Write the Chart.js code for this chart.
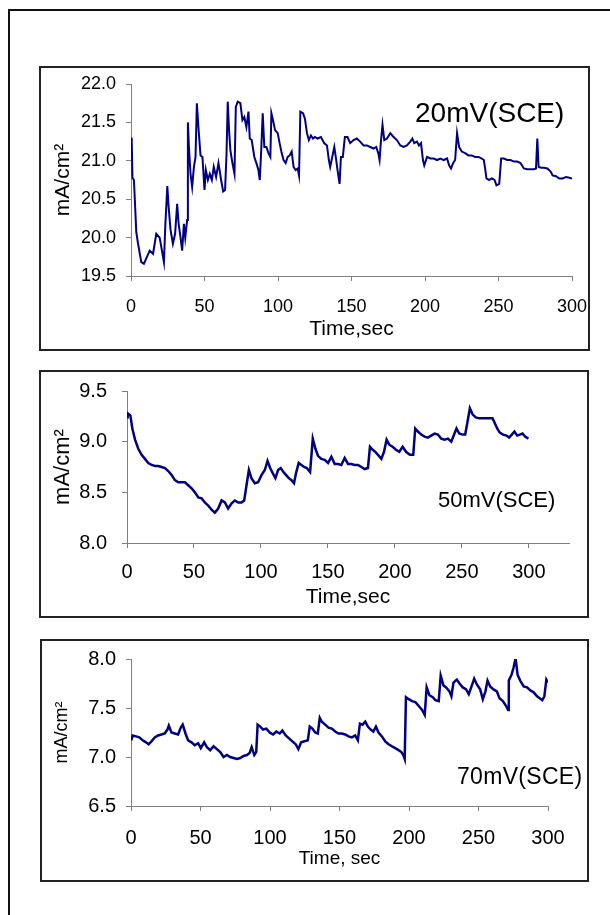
<!DOCTYPE html>
<html>
<head>
<meta charset="utf-8">
<script src="https://cdn.jsdelivr.net/npm/chart.js@4.4.0/dist/chart.umd.min.js"></script>
<style>
  html, body { margin:0; padding:0; background:#fff; }
  body { width:610px; height:915px; position:relative; overflow:hidden; font-family:"Liberation Sans", Arial, sans-serif; }
  .frame { position:absolute; left:8px; top:9px; width:700px; height:1000px; border:2px solid #111; }
  .panel { position:absolute; border:2px solid #222; background:#fff; }
  .panel canvas { position:absolute; left:0; top:0; }
  .tag { position:absolute; color:#000; white-space:nowrap; line-height:1; }
</style>
</head>
<body>
<div class="frame"></div>

<div class="panel" style="left:39px;top:66px;width:547px;height:281px;"><canvas id="c20" width="547" height="281"></canvas></div>
<div class="panel" style="left:39px;top:370px;width:546px;height:244px;"><canvas id="c50" width="546" height="244"></canvas></div>
<div class="panel" style="left:40px;top:639px;width:545px;height:239px;"><canvas id="c70" width="545" height="239"></canvas></div>

<div class="tag" style="left:415px;top:99px;font-size:28px;">20mV(SCE)</div>
<div class="tag" style="left:438px;top:489px;font-size:22px;">50mV(SCE)</div>
<div class="tag" style="left:457px;top:765px;font-size:23px;letter-spacing:0.3px;">70mV(SCE)</div>

<script>
const FONT = '"Liberation Sans", Arial, sans-serif';
const LINE = '#000080';
const AXIS = '#808080';

// 20mV(SCE) — time (s) / current density (mA/cm2)
const time20 = [
  0, 0.5, 1, 2, 3.6, 4.8, 7, 8.8, 10.4, 12.7,
  15, 17.2, 19.5, 20.6, 22.4, 23.3, 24.7, 25.6, 26.9, 28.5,
  30, 31.4, 32.4, 33.7, 34.8, 36, 36.9, 38.2, 38.7, 39.4,
  40.5, 41.6, 42.8, 43.9, 44.8, 46, 47.3, 48.6, 50, 50.9,
  52.3, 53.6, 55, 56.3, 57.9, 59.5, 61.3, 62.7, 64, 65,
  65.8, 66.7, 67.6, 69, 70.4, 71.3, 72.6, 74.4, 75.8, 77.1,
  78.5, 79.9, 80.8, 82.1, 83.9, 85.3, 86.7, 87.6, 88.5, 89.6,
  90.7, 92.1, 93.5, 94.8, 95.5, 96.6, 98, 99.8, 101.1, 102.5,
  103.8, 105.2, 106.6, 107.9, 109.3, 110.6, 112, 113.4, 114.3, 115.2,
  117, 118.3, 119.7, 121, 122.4, 123.8, 125.1, 126.9, 129.2, 131.4,
  133.3, 134.6, 135.5, 136.9, 138.3, 139.6, 140.5, 141.9, 142.8, 144.1,
  145.5, 147.3, 149.1, 151.4, 153.6, 155.9, 158.2, 160.5, 162.7, 165,
  166.8, 168.2, 169.1, 170, 171.1, 172.3, 174.1, 176.4, 178.6, 180.9,
  183.2, 185.5, 187.7, 190, 191.4, 192.7, 194.5, 195.9, 197.3, 198.6,
  199.5, 201.4, 203.6, 205.9, 208.2, 210.5, 212.7, 215, 216.4, 217.7,
  219.1, 220.5, 221.8, 223.2, 225, 227.3, 229.5, 231.8, 234.1, 236.4,
  238.6, 240, 240.9, 241.8, 243.6, 245.5, 247.3, 248.6, 250.5, 251.8,
  253.6, 255.9, 258.2, 260.5, 262.7, 265, 267.3, 269.5, 271.8, 274.1,
  275.5, 276.4, 277.3, 279.1, 280.9, 283.2, 285.5, 286.8, 289.1, 291.4,
  293.6, 295.9, 298.2, 300
];
const cur20 = [
  21.3, 21.25, 20.78, 20.75, 20.07, 19.92, 19.68, 19.66, 19.73, 19.83,
  19.79, 20.05, 20.0, 19.88, 19.68, 20.14, 20.67, 20.4, 20.1, 19.92,
  20.05, 20.44, 20.18, 20.0, 19.83, 20.18, 20.0, 20.23, 21.5, 21.18,
  20.83, 20.66, 20.92, 21.05, 21.75, 21.4, 21.07, 21.05, 20.62, 20.88,
  20.75, 20.83, 20.75, 20.92, 20.79, 20.97, 20.75, 20.6, 20.62, 21.1,
  21.77, 21.4, 21.14, 20.97, 20.83, 21.7, 21.77, 21.75, 21.53, 21.57,
  21.44, 21.64, 21.29, 21.27, 21.05, 20.97, 20.88, 20.75, 21.1, 21.62,
  21.18, 21.18, 21.1, 21.05, 21.62, 21.53, 21.4, 21.36, 21.23, 21.1,
  21.01, 20.97, 21.05, 21.07, 21.12, 20.92, 20.88, 20.9, 20.81, 21.64,
  21.62, 21.55, 21.36, 21.27, 21.33, 21.29, 21.31, 21.29, 21.31, 21.23,
  21.2, 21.01, 20.92, 21.05, 21.18, 21.01, 20.88, 20.7, 21.05, 21.05,
  21.31, 21.31, 21.23, 21.27, 21.29, 21.25, 21.2, 21.2, 21.18, 21.16,
  21.18, 21.1, 21.01, 21.25, 21.47, 21.27, 21.29, 21.36, 21.31, 21.27,
  21.2, 21.18, 21.2, 21.25, 21.29, 21.23, 21.25, 21.2, 21.23, 21.01,
  20.94, 21.05, 21.03, 21.03, 21.01, 21.03, 21.01, 21.03, 20.94, 20.9,
  20.97, 21.01, 21.36, 21.18, 21.12, 21.1, 21.07, 21.07, 21.05, 21.05,
  21.03, 21.01, 20.9, 20.77, 20.75, 20.77, 20.75, 20.68, 20.7, 21.03,
  21.03, 21.01, 21.01, 20.99, 20.99, 20.97, 20.9, 20.89, 20.89, 20.89,
  20.9, 21.29, 20.92, 20.91, 20.91, 20.9, 20.86, 20.81, 20.8, 20.77,
  20.77, 20.79, 20.78, 20.77
];

// 50mV(SCE)
const time50 = [
  0, 0.5, 2.5, 4, 6, 8.4, 10.9, 13.4, 15.9, 18.4, 20.9,
  23.4, 25.8, 28.3, 30.8, 33.3, 35.8, 38.3, 40.7, 43.2, 45.7,
  48.2, 50.7, 53.2, 55.7, 58.1, 60.6, 63.1, 65.6, 68.1, 70.6,
  73.1, 75.5, 78, 80.5, 83, 85.5, 87.5, 89, 91, 92.9,
  95.4, 97.9, 100.4, 102.9, 104.9, 106.9, 108.8, 110.8, 112.8, 114.8,
  116.8, 118.8, 120.8, 122.8, 124.7, 126.2, 128.2, 130.2, 132.2, 134.2,
  136.7, 138.7, 140.7, 142.6, 145.1, 147.6, 150.1, 152.6, 155.1, 157.6,
  160, 162.5, 165, 167.5, 170, 172.5, 175, 177.4, 179.9, 181.4,
  183.4, 185.4, 187.4, 189.9, 191.9, 193.8, 195.8, 198.3, 200.8, 203.3,
  205.8, 208.3, 211.2, 213.7, 215.2, 217.2, 219.7, 222.2, 224.7, 227.1,
  229.6, 232.1, 234.6, 237.1, 239.6, 242.1, 244.5, 246, 248, 250.5,
  252.5, 254, 256, 258, 260.4, 262.9, 265.4, 267.9, 270.4, 272.9,
  274.4, 276.4, 278.3, 280.8, 283.3, 285.3, 287.3, 289.3, 291.3, 293.3,
  295.3, 297.2, 299.7
];
const cur50 = [
  9.24, 9.28, 9.26, 9.13, 9.02, 8.93, 8.87, 8.83, 8.79, 8.77, 8.76,
  8.76, 8.75, 8.74, 8.71, 8.67, 8.62, 8.6, 8.6, 8.6, 8.57,
  8.54, 8.5, 8.45, 8.44, 8.4, 8.37, 8.33, 8.3, 8.34, 8.42,
  8.4, 8.34, 8.39, 8.42, 8.4, 8.4, 8.42, 8.55, 8.72, 8.64,
  8.59, 8.6, 8.67, 8.72, 8.81, 8.74, 8.69, 8.64, 8.72, 8.74,
  8.7, 8.67, 8.64, 8.62, 8.59, 8.69, 8.79, 8.77, 8.75, 8.74,
  8.7, 9.03, 8.93, 8.86, 8.83, 8.82, 8.79, 8.85, 8.78, 8.78,
  8.77, 8.84, 8.78, 8.78, 8.77, 8.77, 8.75, 8.73, 8.74, 8.95,
  8.92, 8.9, 8.87, 8.83, 8.9, 9.02, 8.97, 8.95, 8.92, 8.9,
  8.95, 8.9, 8.87, 8.87, 9.13, 9.1, 9.07, 9.05, 9.04, 9.06,
  9.08, 9.07, 9.03, 9.02, 9.03, 9.0, 9.08, 9.13, 9.08, 9.07,
  9.07, 9.18, 9.33, 9.27, 9.24, 9.23, 9.23, 9.23, 9.23, 9.23,
  9.19, 9.13, 9.09, 9.07, 9.06, 9.04, 9.07, 9.1, 9.06, 9.07,
  9.08, 9.05, 9.03
];

// 70mV(SCE)
const time70 = [
  0.2, 1.2, 3.6, 6, 8.4, 10.8, 12.7, 14.7, 17.1, 19.5,
  21.9, 24.3, 26.2, 27.2, 29.1, 31.5, 33.9, 35.8, 37.2, 39.2,
  41.1, 43.5, 45.9, 48.3, 50.2, 52.6, 54.6, 57, 59.4, 61.8,
  64.2, 66.6, 69, 71.4, 73.8, 76.2, 78.6, 81, 83.4, 85.3,
  86.8, 88.7, 90.1, 91.1, 93, 95, 97.4, 99.8, 102.2, 104.6,
  107, 108.9, 111.3, 113.7, 116.1, 118.5, 120.4, 122.4, 124.8, 127.2,
  128.6, 130.5, 132.5, 134.4, 135.8, 137.3, 139.7, 142.1, 144.5, 146.9,
  149.3, 151.7, 154.1, 156.5, 158.9, 161.3, 163.2, 164.7, 166.6, 168.5,
  170.4, 172.4, 174.3, 176.2, 178.1, 180.5, 182.9, 185.3, 187.7, 190.1,
  192.5, 194.5, 195.9, 196.9, 197.8, 199.8, 202.2, 204.6, 207, 209.4,
  211.3, 212.7, 214.7, 217.1, 219, 221.4, 222.8, 224.8, 226.7, 229.1,
  230.5, 232, 234.4, 236.3, 238.7, 241.1, 243, 245, 246.9, 248.8,
  251.2, 253.1, 255, 256.5, 258.4, 260.8, 263.2, 265.1, 267.5, 269.9,
  271.3, 271.8, 273.8, 275.2, 276.7, 278.1, 280, 282.5, 284.9, 287.3,
  289.7, 292.1, 294, 295.9, 297.4, 298.8, 300
];
const cur70 = [
  7.17, 7.22, 7.21, 7.2, 7.17, 7.15, 7.13, 7.16, 7.2, 7.22,
  7.23, 7.24, 7.28, 7.32, 7.25, 7.24, 7.23, 7.3, 7.33, 7.24,
  7.17, 7.15, 7.12, 7.14, 7.09, 7.15, 7.1, 7.07, 7.11, 7.08,
  7.05, 7.0, 7.02, 7.0, 6.99, 6.98, 6.99, 7.01, 7.02, 7.04,
  7.1, 7.02, 7.05, 7.33, 7.31, 7.28, 7.29, 7.25, 7.23, 7.26,
  7.24, 7.27, 7.22, 7.19, 7.16, 7.13, 7.08, 7.15, 7.16, 7.17,
  7.31, 7.29, 7.25, 7.24, 7.4, 7.36, 7.33, 7.3, 7.29, 7.26,
  7.24, 7.24, 7.23, 7.21, 7.2, 7.22, 7.17, 7.34, 7.33, 7.36,
  7.31, 7.28, 7.26, 7.31, 7.25, 7.21, 7.16, 7.13, 7.11, 7.09,
  7.07, 7.05, 7.02, 6.98, 7.61, 7.59, 7.57, 7.56, 7.52, 7.48,
  7.43, 7.71, 7.63, 7.61, 7.58, 7.57, 7.83, 7.73, 7.71, 7.67,
  7.62, 7.76, 7.79, 7.75, 7.71, 7.69, 7.64, 7.72, 7.8, 7.74,
  7.69, 7.59, 7.67, 7.78, 7.72, 7.69, 7.67, 7.6, 7.57, 7.52,
  7.48, 7.78, 7.84, 7.91, 8.01, 7.84, 7.78, 7.72, 7.71, 7.68,
  7.66, 7.62, 7.6, 7.58, 7.62, 7.79, 7.76
];

// 스케일이 라벨 여백으로 플롯 영역을 줄이지 않도록
const noPad = s => { s.paddingTop = 0; s.paddingBottom = 0; s.paddingLeft = 0; s.paddingRight = 0; };

// 한 패널 그리기
function makeChart(id, xs, ys, o){
  const pts = xs.map((x, i) => ({ x: x, y: ys[i] }));
  return new Chart(document.getElementById(id), {
    type: 'scatter',
    data: { datasets: [{ data: pts, showLine: true, borderColor: LINE, backgroundColor: LINE,
                         borderWidth: o.lw, pointRadius: 0, tension: 0 }] },
    options: {
      responsive: false, animation: false, events: [],
      layout: { padding: { top: o.padTop, right: o.padRight, bottom: 0, left: 0 } },
      plugins: { legend: { display: false }, tooltip: { enabled: false } },
      scales: {
        x: {
          type: 'linear', min: 0, max: o.xMax,
          afterFit: s => { s.height = o.xH; noPad(s); },
          border: { color: AXIS, width: 1 },
          grid: { drawOnChartArea: false, drawTicks: true, tickLength: 5, color: AXIS },
          ticks: { stepSize: 50, includeBounds: false, autoSkip: false, maxRotation: 0,
                   padding: o.xTickPad, color: '#000', font: { family: FONT, size: o.tickSize } },
          title: { display: true, text: o.xTitle, color: '#000',
                   font: { family: FONT, size: o.xTitleSize }, padding: { top: 0, bottom: o.xTitlePad } }
        },
        y: {
          type: 'linear', min: o.yMin, max: o.yMax,
          afterFit: s => { s.width = o.yW; noPad(s); },
          border: { color: AXIS, width: 1 },
          grid: { drawOnChartArea: false, drawTicks: true, tickLength: 5, color: AXIS },
          ticks: { stepSize: 0.5, callback: v => v.toFixed(1), padding: o.yTickPad,
                   color: '#000', font: { family: FONT, size: o.tickSize } },
          title: { display: true, text: 'mA/cm²', color: '#000',
                   font: { family: FONT, size: o.yTitleSize }, padding: { top: o.yTitlePad, bottom: 0 } }
        }
      }
    }
  });
}

makeChart('c20', time20, cur20, {
  padTop: 16, padRight: 16, xH: 73, yW: 90, xMax: 300, yMin: 19.5, yMax: 22.0, lw: 2,
  tickSize: 18, xTickPad: 15, yTickPad: 10, xTitle: 'Time,sec', xTitleSize: 21, xTitlePad: 7,
  yTitleSize: 21, yTitlePad: 10
});
makeChart('c50', time50, cur50, {
  padTop: 19, padRight: 18, xH: 73, yW: 86, xMax: 330, yMin: 8.0, yMax: 9.5, lw: 2.5,
  tickSize: 20, xTickPad: 12, yTickPad: 15, xTitle: 'Time,sec', xTitleSize: 21, xTitlePad: 6,
  yTitleSize: 22, yTitlePad: 9
});
makeChart('c70', time70, cur70, {
  padTop: 18, padRight: 39, xH: 74, yW: 89, xMax: 300, yMin: 6.5, yMax: 8.0, lw: 2.5,
  tickSize: 20, xTickPad: 15, yTickPad: 10, xTitle: 'Time, sec', xTitleSize: 19, xTitlePad: 10,
  yTitleSize: 18, yTitlePad: 9
});
</script>
</body>
</html>
